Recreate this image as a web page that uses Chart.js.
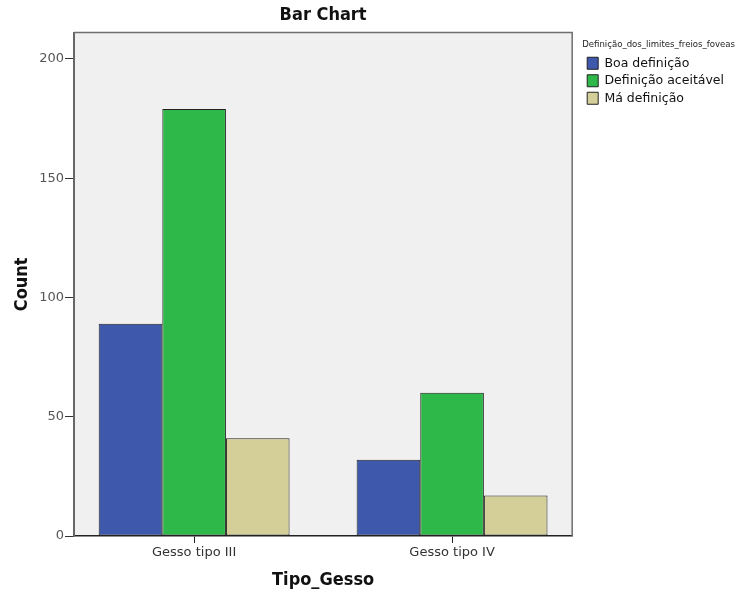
<!DOCTYPE html>
<html lang="pt">
<head>
<meta charset="UTF-8">
<title>Bar Chart</title>
<script src="https://cdn.jsdelivr.net/npm/chart.js"></script>
<style>
  body { margin: 0; background: #fff; }
  #wrap { width: 745px; height: 594px; }
</style>
</head>
<body>
<div id="wrap"><canvas id="barChart" width="745" height="594"></canvas></div>
<script>
  // data
  const categories = ['Gesso tipo III', 'Gesso tipo IV'];
  const seriesNames = ['Boa definição', 'Definição aceitável', 'Má definição'];
  const boaDefinicao = [89, 32];
  const definicaoAceitavel = [179, 60];
  const maDefinicao = [41, 17];
  const yTicks = [0, 50, 100, 150, 200];

  const seriesValues = [boaDefinicao, definicaoAceitavel, maDefinicao];
  const seriesColors = ['#3e58ab', '#2fb84a', '#d4cf99'];

  const plotBackground = {
    id: 'plotBackground',
    beforeDraw(chart) {
      const { ctx, chartArea: a } = chart;
      ctx.save();
      ctx.fillStyle = '#f0f0f0';
      ctx.fillRect(a.left, a.top, a.right - a.left, a.bottom - a.top);
      ctx.restore();
    },
    afterDatasetsDraw(chart) {
      const { ctx, chartArea: a } = chart;
      ctx.save();
      ctx.strokeStyle = '#6e6e6e';
      ctx.lineWidth = 1.5;
      ctx.beginPath();
      ctx.moveTo(a.left, a.top);
      ctx.lineTo(a.right, a.top);
      ctx.lineTo(a.right, a.bottom);
      ctx.stroke();
      ctx.restore();
    }
  };

  // small gap between the plot frame and the legend, and room for its long title
  const legendGap = {
    id: 'legendGap',
    afterLayout(chart) {
      chart.legend.left += 10;
      chart.legend.right = chart.width;
    }
  };

  const datasets = seriesNames.map((name, i) => ({
    label: name,
    data: seriesValues[i].map((v, k) => ({ x: k, y: v })),
    backgroundColor: seriesColors[i],
    borderColor: '#222',
    borderWidth: 1,
    borderSkipped: false,
    barPercentage: 1.0,
    categoryPercentage: 0.74
  }));

  new Chart(document.getElementById('barChart'), {
    type: 'bar',
    data: { datasets: datasets },
    plugins: [plotBackground, legendGap],
    options: {
      responsive: false,
      animation: false,
      layout: { padding: { left: 0, right: 21, top: 0, bottom: 0 } },
      plugins: {
        tooltip: { enabled: false },
        title: {
          display: true,
          fullSize: false,
          text: 'Bar Chart',
          color: '#111',
          font: { family: "'Liberation Sans Narrow', 'DejaVu Sans Condensed', sans-serif", size: 18, weight: 'bold' },
          padding: { top: 5, bottom: 6 }
        },
        legend: {
          position: 'right',
          align: 'start',
          fullSize: false,
          title: {
            display: true,
            position: 'start',
            text: 'Definição_dos_limites_freios_foveas',
            color: '#222',
            font: { family: "'DejaVu Sans Condensed', sans-serif", size: 9.5 },
            padding: { top: 7, bottom: 1 }
          },
          labels: {
            boxWidth: 11,
            boxHeight: 12,
            padding: 5,
            color: '#111',
            font: { family: "'DejaVu Sans', sans-serif", size: 12.5 }
          }
        }
      },
      scales: {
        x: {
          type: 'linear',
          offset: false,
          min: -0.4657,
          max: 1.4657,
          afterFit: s => { s.height = 58; },
          afterBuildTicks: s => { s.ticks = categories.map((c, k) => ({ value: k })); },
          ticks: {
            autoSkip: false,
            maxRotation: 0,
            padding: 2,
            color: '#333',
            font: { family: "'DejaVu Sans', sans-serif", size: 13 },
            callback: v => categories[v]
          },
          grid: { offset: false, drawOnChartArea: false, drawTicks: true, tickLength: 7, color: '#222' },
          border: { display: true, color: '#222', width: 1.5 },
          title: {
            display: true,
            text: 'Tipo_Gesso',
            color: '#111',
            font: { family: "'DejaVu Sans Condensed', sans-serif", size: 18, weight: 'bold' },
            padding: { top: 4, bottom: 3 }
          }
        },
        y: {
          min: 0,
          max: 211,
          afterFit: s => { s.width = 74; },
          afterBuildTicks: s => { s.ticks = yTicks.map(v => ({ value: v })); },
          ticks: {
            padding: 1,
            color: '#555',
            font: { family: "'DejaVu Sans', sans-serif", size: 13 }
          },
          grid: { drawOnChartArea: false, drawTicks: true, tickLength: 9, color: '#333' },
          border: { display: true, color: '#666', width: 2 },
          title: {
            display: true,
            text: 'Count',
            color: '#111',
            font: { family: "'DejaVu Sans Condensed', sans-serif", size: 18, weight: 'bold' },
            padding: { top: 12, bottom: 0 }
          }
        }
      }
    }
  });
</script>
</body>
</html>
